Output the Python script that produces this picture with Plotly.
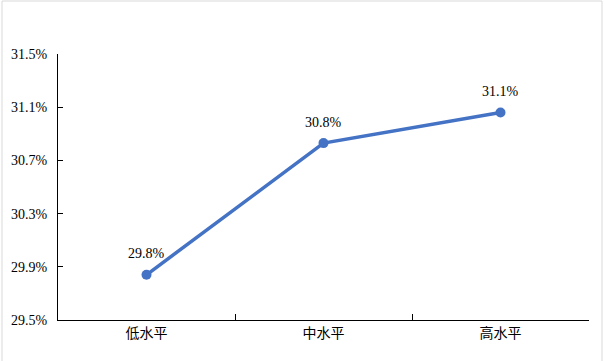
import plotly.graph_objects as go

categories = ["低水平", "中水平", "高水平"]
values = [29.84, 30.83, 31.06]
labels = ["29.8%", "30.8%", "31.1%"]
y_ticks = [29.5, 29.9, 30.3, 30.7, 31.1, 31.5]
y_tick_text = ["29.5%", "29.9%", "30.3%", "30.7%", "31.1%", "31.5%"]

SERIF = "'Liberation Serif', 'Times New Roman', serif"

fig = go.Figure()
fig.add_trace(go.Scatter(
    x=categories, y=values, mode="lines+markers",
    line=dict(color="#4472C4", width=3.5),
    marker=dict(color="#4472C4", size=10),
    hoverinfo="skip", showlegend=False,
))
for c, v, t in zip(categories, values, labels):
    fig.add_annotation(x=c, y=v, text=t, showarrow=False, yshift=21,
                       font=dict(family=SERIF, size=14, color="#000"))

fig.update_layout(
    width=605, height=361,
    margin=dict(l=58, r=16, t=54, b=41),
    paper_bgcolor="white", plot_bgcolor="white",
    xaxis=dict(
        type="category", tickson="boundaries", ticks="inside", ticklen=6,
        tickcolor="#000", tickwidth=1, showline=True, linecolor="#000", linewidth=1,
        showgrid=False, zeroline=False,
        tickfont=dict(family="'Noto Sans CJK SC'", size=14, color="#000"),
        range=[-0.5, 2.5],
    ),
    yaxis=dict(
        range=[29.5, 31.5], tickvals=y_ticks, ticktext=y_tick_text,
        ticks="inside", ticklen=5, tickcolor="#000", tickwidth=1,
        showline=True, linecolor="#000", linewidth=1,
        showgrid=False, zeroline=False, ticklabelstandoff=7,
        tickfont=dict(family=SERIF, size=14, color="#000"),
    ),
    shapes=[dict(type="rect", xref="paper", yref="paper",
                 x0=(2 - 58) / 531, x1=(602 - 58) / 531,
                 y0=(320 - 364) / 266, y1=(320 - 1) / 266,
                 line=dict(color="#D9D9D9", width=1), layer="below")],
)
fig.write_html("out.html")
